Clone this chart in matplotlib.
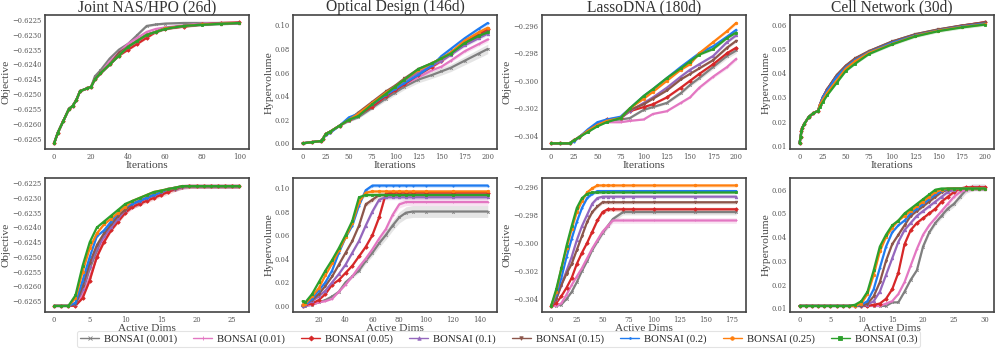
import numpy as np
import matplotlib
matplotlib.use("Agg")
import matplotlib.pyplot as plt
from matplotlib.ticker import MultipleLocator, FuncFormatter

plt.style.use("seaborn-v0_8-white")
plt.rcParams["font.family"] = ["Liberation Serif", "DejaVu Serif"]

labels = ["BONSAI (0.001)", "BONSAI (0.01)", "BONSAI (0.05)", "BONSAI (0.1)",
          "BONSAI (0.15)", "BONSAI (0.2)", "BONSAI (0.25)", "BONSAI (0.3)"]
colors = ["#7f7f7f", "#e377c2", "#d62728", "#9467bd",
          "#8c564b", "#1f7bf0", "#ff7f0e", "#2ca02c"]
markers = ["x", "+", "D", "^", "v", ".", "o", "s"]

# ---- Joint NAS/HPO, iterations
nas_it_x = [0, 2, 5, 8, 10, 12, 14, 18, 20, 22, 25, 30, 35, 40, 45, 50, 55, 60, 70, 80, 90, 100]
nas_it_y = [
    [-0.62666, -0.6263, -0.6259, -0.6255, -0.6254, -0.6252, -0.6249, -0.6248, -0.62475, -0.6244, -0.6242, -0.6238, -0.6235, -0.6233, -0.6230, -0.6227, -0.62265, -0.62262, -0.6226, -0.6226, -0.6226, -0.6226],
    [-0.62666, -0.6263, -0.6259, -0.6255, -0.6254, -0.6252, -0.6249, -0.6248, -0.62475, -0.6245, -0.6243, -0.6239, -0.6236, -0.6233, -0.6231, -0.6229, -0.6228, -0.62275, -0.62268, -0.62262, -0.6226, -0.6226],
    [-0.62666, -0.6263, -0.6259, -0.6255, -0.6254, -0.6252, -0.6249, -0.6248, -0.62475, -0.6245, -0.6243, -0.6240, -0.6237, -0.6235, -0.6233, -0.6231, -0.6229, -0.6228, -0.62272, -0.62265, -0.6226, -0.62258],
    [-0.62666, -0.6263, -0.6259, -0.6255, -0.6254, -0.6252, -0.6249, -0.6248, -0.62475, -0.6245, -0.6243, -0.6240, -0.6237, -0.6234, -0.6232, -0.6230, -0.6229, -0.62278, -0.6227, -0.62265, -0.62262, -0.6226],
    [-0.62666, -0.6263, -0.6259, -0.6255, -0.6254, -0.6252, -0.6249, -0.6248, -0.62475, -0.6245, -0.6243, -0.6240, -0.6236, -0.6234, -0.6232, -0.6230, -0.6229, -0.62278, -0.6227, -0.62265, -0.62262, -0.6226],
    [-0.62666, -0.6263, -0.6259, -0.6255, -0.6254, -0.6252, -0.6249, -0.6248, -0.62475, -0.6245, -0.6243, -0.6240, -0.6237, -0.6234, -0.6232, -0.6230, -0.6229, -0.62278, -0.6227, -0.62265, -0.62262, -0.6226],
    [-0.62666, -0.6263, -0.6259, -0.6255, -0.6254, -0.6252, -0.6249, -0.6248, -0.62475, -0.6245, -0.6243, -0.6240, -0.6237, -0.6234, -0.6232, -0.6230, -0.6229, -0.62278, -0.6227, -0.62265, -0.62262, -0.6226],
    [-0.62666, -0.6263, -0.6259, -0.6255, -0.6254, -0.6252, -0.6249, -0.6248, -0.62475, -0.6245, -0.6243, -0.6240, -0.6237, -0.6234, -0.6232, -0.6230, -0.6229, -0.6228, -0.6227, -0.62266, -0.62263, -0.6226],
]
nas_it_sem = [0.00004, 0.00004, 0.00004, 0.00004, 0.00004, 0.00004, 0.00004, 0.00004]

# ---- Optical Design, iterations
opt_it_x = [0, 10, 20, 22, 25, 30, 40, 50, 60, 75, 90, 100, 110, 125, 140, 150, 160, 175, 190, 200]
opt_it_y = [
    [0, 0.001, 0.002, 0.004, 0.008, 0.010, 0.015, 0.019, 0.022, 0.030, 0.038, 0.043, 0.048, 0.054, 0.058, 0.061, 0.064, 0.070, 0.076, 0.080],
    [0, 0.001, 0.002, 0.004, 0.008, 0.010, 0.015, 0.020, 0.024, 0.032, 0.040, 0.046, 0.050, 0.056, 0.062, 0.065, 0.070, 0.078, 0.084, 0.088],
    [0, 0.001, 0.002, 0.004, 0.008, 0.010, 0.015, 0.020, 0.024, 0.031, 0.040, 0.045, 0.050, 0.058, 0.065, 0.070, 0.076, 0.086, 0.092, 0.097],
    [0, 0.001, 0.002, 0.004, 0.008, 0.010, 0.015, 0.020, 0.025, 0.033, 0.042, 0.047, 0.053, 0.060, 0.066, 0.070, 0.075, 0.083, 0.089, 0.093],
    [0, 0.001, 0.002, 0.004, 0.008, 0.010, 0.015, 0.020, 0.026, 0.035, 0.044, 0.049, 0.055, 0.063, 0.068, 0.072, 0.077, 0.085, 0.091, 0.095],
    [0, 0.001, 0.002, 0.004, 0.007, 0.009, 0.015, 0.022, 0.025, 0.033, 0.041, 0.046, 0.051, 0.058, 0.066, 0.074, 0.080, 0.089, 0.097, 0.102],
    [0, 0.001, 0.002, 0.004, 0.008, 0.010, 0.015, 0.020, 0.025, 0.034, 0.043, 0.048, 0.054, 0.062, 0.068, 0.072, 0.077, 0.087, 0.094, 0.098],
    [0, 0.001, 0.002, 0.004, 0.008, 0.010, 0.015, 0.020, 0.023, 0.033, 0.042, 0.048, 0.054, 0.063, 0.068, 0.072, 0.076, 0.085, 0.091, 0.094],
]
opt_it_sem = [0.004, 0.002, 0.002, 0.0015, 0.0015, 0.0015, 0.0015, 0.0015]

# ---- LassoDNA, iterations
las_it_x = [0, 10, 20, 25, 30, 40, 50, 60, 75, 85, 100, 110, 125, 140, 150, 160, 175, 190, 200]
las_it_y = [
    [-0.30453, -0.30453, -0.30453, -0.3043, -0.3041, -0.3036, -0.3032, -0.3029, -0.3028, -0.3027, -0.3021, -0.3019, -0.3016, -0.3009, -0.3003, -0.2998, -0.2990, -0.2982, -0.2978],
    [-0.30453, -0.30453, -0.30453, -0.3043, -0.3041, -0.3036, -0.3032, -0.3030, -0.3030, -0.3029, -0.3028, -0.3024, -0.3022, -0.3016, -0.3012, -0.3005, -0.2997, -0.2990, -0.2984],
    [-0.30453, -0.30453, -0.30453, -0.3043, -0.3041, -0.3036, -0.3032, -0.3028, -0.3027, -0.3022, -0.3019, -0.3017, -0.3012, -0.3005, -0.3000, -0.2995, -0.2988, -0.2980, -0.2976],
    [-0.30453, -0.30453, -0.30453, -0.3043, -0.3041, -0.3036, -0.3032, -0.3029, -0.3027, -0.3022, -0.3016, -0.3012, -0.3005, -0.2997, -0.2992, -0.2988, -0.2982, -0.2972, -0.2967],
    [-0.30453, -0.30453, -0.30453, -0.3043, -0.3041, -0.3036, -0.3032, -0.3029, -0.3027, -0.3021, -0.3017, -0.3013, -0.3007, -0.2999, -0.2995, -0.2991, -0.2985, -0.2976, -0.2971],
    [-0.30453, -0.30453, -0.30453, -0.3044, -0.3041, -0.3035, -0.3030, -0.3028, -0.3026, -0.3020, -0.3011, -0.3006, -0.2998, -0.2990, -0.2985, -0.2980, -0.2975, -0.2968, -0.2963],
    [-0.30453, -0.30453, -0.30453, -0.3043, -0.3041, -0.3036, -0.3032, -0.3029, -0.3027, -0.3020, -0.3013, -0.3008, -0.3000, -0.2992, -0.2988, -0.2980, -0.2972, -0.2964, -0.2958],
    [-0.30453, -0.30453, -0.30453, -0.3043, -0.3041, -0.3037, -0.3033, -0.3030, -0.3027, -0.3020, -0.3011, -0.3006, -0.2998, -0.2991, -0.2986, -0.2981, -0.2977, -0.2969, -0.2965],
]
las_it_sem = [0.0002, 0.00015, 0.00015, 0.0001, 0.0001, 0.00012, 0.00012, 0.0001]

# ---- Cell Network, iterations
cel_it_x = [0, 1, 2, 3, 5, 10, 15, 20, 22, 25, 30, 40, 50, 60, 75, 100, 125, 150, 175, 200]
cel_it_y = [
    [0.011, 0.0135, 0.016, 0.0175, 0.019, 0.022, 0.0235, 0.0245, 0.027, 0.030, 0.0335, 0.0392, 0.0432, 0.0462, 0.0492, 0.0532, 0.0562, 0.0582, 0.0598, 0.0610],
    [0.011, 0.0135, 0.016, 0.0175, 0.019, 0.022, 0.0235, 0.0245, 0.027, 0.030, 0.0335, 0.0390, 0.0430, 0.0460, 0.0490, 0.0530, 0.0560, 0.0580, 0.0597, 0.0612],
    [0.011, 0.0135, 0.016, 0.0175, 0.019, 0.022, 0.0235, 0.0245, 0.027, 0.030, 0.0335, 0.0390, 0.0430, 0.0460, 0.0490, 0.0530, 0.0560, 0.0580, 0.0597, 0.0612],
    [0.011, 0.0135, 0.016, 0.0175, 0.019, 0.022, 0.0235, 0.0245, 0.027, 0.030, 0.0333, 0.0388, 0.0428, 0.0458, 0.0488, 0.0528, 0.0558, 0.0578, 0.0595, 0.0608],
    [0.011, 0.0135, 0.016, 0.0175, 0.019, 0.022, 0.0235, 0.0245, 0.027, 0.030, 0.0335, 0.0392, 0.0432, 0.0462, 0.0492, 0.0532, 0.0562, 0.0582, 0.0598, 0.0611],
    [0.011, 0.0135, 0.016, 0.0175, 0.019, 0.022, 0.0235, 0.0245, 0.027, 0.030, 0.0330, 0.0385, 0.0425, 0.0455, 0.0487, 0.0527, 0.0557, 0.0578, 0.0594, 0.0606],
    [0.011, 0.0135, 0.016, 0.0175, 0.019, 0.022, 0.0235, 0.0245, 0.027, 0.029, 0.0320, 0.0370, 0.0420, 0.0450, 0.0485, 0.0522, 0.0555, 0.0577, 0.0592, 0.0603],
    [0.011, 0.0135, 0.016, 0.0175, 0.019, 0.022, 0.0235, 0.0245, 0.026, 0.028, 0.0310, 0.0360, 0.0410, 0.0440, 0.0480, 0.0520, 0.0553, 0.0575, 0.0590, 0.0602],
]
cel_it_sem = [0.0004, 0.0004, 0.0004, 0.0004, 0.0004, 0.0004, 0.0004, 0.0006]

# ---- Joint NAS/HPO, active dims
nas_ad_x = list(range(27))
nas_ad_y = [
    [-0.62666, -0.62666, -0.62666, -0.6266, -0.6262, -0.6254, -0.6248, -0.6243, -0.6240, -0.6237, -0.6234, -0.6233, -0.6232, -0.6230, -0.6229, -0.6228, -0.6227, -0.6227, -0.62262, -0.6226, -0.6226, -0.6226, -0.6226, -0.6226, -0.6226, -0.6226, -0.6226],
    [-0.62666, -0.62666, -0.62666, -0.62665, -0.6263, -0.6257, -0.6250, -0.6244, -0.6240, -0.6237, -0.6235, -0.6233, -0.6232, -0.6230, -0.6229, -0.6228, -0.6227, -0.6227, -0.62262, -0.6226, -0.6226, -0.6226, -0.6226, -0.6226, -0.6226, -0.6226, -0.6226],
    [-0.62666, -0.62666, -0.62666, -0.62665, -0.6264, -0.6258, -0.6250, -0.6245, -0.6241, -0.6238, -0.6235, -0.6233, -0.6232, -0.6231, -0.6230, -0.6229, -0.6228, -0.6227, -0.62262, -0.6226, -0.6226, -0.6226, -0.6226, -0.6226, -0.6226, -0.6226, -0.6226],
    [-0.62666, -0.62666, -0.62666, -0.6266, -0.6261, -0.6253, -0.6247, -0.6243, -0.6240, -0.6237, -0.6234, -0.6232, -0.6231, -0.6230, -0.6229, -0.6228, -0.6227, -0.6227, -0.62262, -0.6226, -0.6226, -0.6226, -0.6226, -0.6226, -0.6226, -0.6226, -0.6226],
    [-0.62666, -0.62666, -0.62666, -0.6266, -0.6260, -0.6252, -0.6246, -0.6242, -0.6239, -0.6236, -0.6234, -0.6232, -0.6231, -0.6230, -0.6229, -0.6228, -0.6227, -0.6227, -0.62262, -0.6226, -0.6226, -0.6226, -0.6226, -0.6226, -0.6226, -0.6226, -0.6226],
    [-0.62666, -0.62666, -0.62666, -0.62655, -0.6258, -0.6250, -0.6243, -0.6241, -0.6238, -0.6235, -0.6233, -0.6232, -0.6231, -0.6230, -0.6229, -0.6228, -0.6227, -0.62265, -0.6226, -0.6226, -0.6226, -0.6226, -0.6226, -0.6226, -0.6226, -0.6226, -0.6226],
    [-0.62666, -0.62666, -0.62666, -0.6264, -0.6255, -0.6247, -0.6242, -0.6239, -0.6237, -0.6235, -0.6233, -0.6231, -0.6230, -0.6229, -0.6228, -0.62275, -0.6227, -0.62265, -0.6226, -0.6226, -0.6226, -0.6226, -0.6226, -0.6226, -0.6226, -0.6226, -0.6226],
    [-0.62666, -0.62666, -0.62666, -0.6263, -0.6253, -0.6245, -0.6240, -0.6238, -0.6236, -0.6234, -0.6232, -0.6231, -0.6230, -0.6229, -0.6228, -0.62275, -0.6227, -0.62265, -0.6226, -0.6226, -0.6226, -0.6226, -0.6226, -0.6226, -0.6226, -0.6226, -0.6226],
]
nas_ad_sem = [0.00008, 0.00008, 0.00008, 0.00006, 0.00006, 0.00005, 0.00005, 0.00005]

# ---- Optical Design, active dims
opt_ad_x = [8, 10, 15, 20, 25, 30, 35, 40, 45, 50, 55, 60, 65, 70, 75, 80, 85, 90, 100, 120, 146]
opt_ad_y = [
    [0.000, 0.000, 0.001, 0.003, 0.005, 0.008, 0.012, 0.020, 0.025, 0.030, 0.038, 0.045, 0.053, 0.060, 0.068, 0.075, 0.079, 0.080, 0.080, 0.080, 0.080],
    [0.000, 0.000, 0.001, 0.003, 0.004, 0.006, 0.012, 0.018, 0.025, 0.033, 0.040, 0.048, 0.057, 0.065, 0.077, 0.086, 0.088, 0.088, 0.088, 0.088, 0.088],
    [0.000, 0.001, 0.002, 0.005, 0.010, 0.018, 0.022, 0.028, 0.034, 0.042, 0.050, 0.060, 0.075, 0.095, 0.096, 0.096, 0.096, 0.096, 0.096, 0.096, 0.096],
    [0.000, 0.001, 0.004, 0.008, 0.013, 0.020, 0.027, 0.035, 0.045, 0.055, 0.068, 0.080, 0.090, 0.092, 0.092, 0.092, 0.092, 0.092, 0.092, 0.092, 0.092],
    [0.001, 0.002, 0.005, 0.010, 0.017, 0.025, 0.035, 0.045, 0.055, 0.068, 0.086, 0.090, 0.094, 0.094, 0.094, 0.094, 0.094, 0.094, 0.094, 0.094, 0.094],
    [0.000, 0.001, 0.006, 0.013, 0.020, 0.030, 0.045, 0.058, 0.068, 0.085, 0.098, 0.102, 0.102, 0.102, 0.102, 0.102, 0.102, 0.102, 0.102, 0.102, 0.102],
    [0.001, 0.002, 0.008, 0.015, 0.026, 0.036, 0.047, 0.058, 0.070, 0.088, 0.096, 0.097, 0.097, 0.097, 0.097, 0.097, 0.097, 0.097, 0.097, 0.097, 0.097],
    [0.004, 0.003, 0.010, 0.020, 0.030, 0.039, 0.049, 0.060, 0.072, 0.092, 0.094, 0.094, 0.094, 0.094, 0.094, 0.094, 0.094, 0.094, 0.094, 0.094, 0.094],
]
opt_ad_sem = [0.005, 0.003, 0.002, 0.002, 0.002, 0.0015, 0.0015, 0.0015]

# ---- LassoDNA, active dims
las_ad_x = [0, 5, 10, 15, 20, 25, 30, 35, 40, 45, 50, 55, 60, 70, 80, 100, 140, 180]
las_ad_y = [
    [-0.3045, -0.3045, -0.3044, -0.3040, -0.3035, -0.3028, -0.3020, -0.3013, -0.3005, -0.2999, -0.2993, -0.2988, -0.2983, -0.2978, -0.2978, -0.2978, -0.2978, -0.2978],
    [-0.3045, -0.3045, -0.3043, -0.3037, -0.3030, -0.3024, -0.3018, -0.3011, -0.3004, -0.2998, -0.2992, -0.2988, -0.2984, -0.2984, -0.2984, -0.2984, -0.2984, -0.2984],
    [-0.3045, -0.3043, -0.3038, -0.3032, -0.3025, -0.3015, -0.3007, -0.3000, -0.2992, -0.2984, -0.2978, -0.2976, -0.2976, -0.2976, -0.2976, -0.2976, -0.2976, -0.2976],
    [-0.3045, -0.3040, -0.3030, -0.3020, -0.3010, -0.2998, -0.2988, -0.2980, -0.2972, -0.2968, -0.2967, -0.2967, -0.2967, -0.2967, -0.2967, -0.2967, -0.2967, -0.2967],
    [-0.3045, -0.3040, -0.3030, -0.3022, -0.3015, -0.3005, -0.2995, -0.2985, -0.2978, -0.2974, -0.2971, -0.2971, -0.2971, -0.2971, -0.2971, -0.2971, -0.2971, -0.2971],
    [-0.3045, -0.3037, -0.3025, -0.3010, -0.2997, -0.2985, -0.2975, -0.2968, -0.2965, -0.2963, -0.2963, -0.2963, -0.2963, -0.2963, -0.2963, -0.2963, -0.2963, -0.2963],
    [-0.3045, -0.3035, -0.3018, -0.3004, -0.2990, -0.2978, -0.2970, -0.2964, -0.2961, -0.2959, -0.2959, -0.2959, -0.2959, -0.2959, -0.2959, -0.2959, -0.2959, -0.2959],
    [-0.3045, -0.3033, -0.3018, -0.3002, -0.2988, -0.2975, -0.2968, -0.2965, -0.2964, -0.2964, -0.2964, -0.2964, -0.2964, -0.2964, -0.2964, -0.2964, -0.2964, -0.2964],
]
las_ad_sem = [0.0002, 0.0002, 0.00015, 0.00012, 0.00012, 0.0001, 0.00012, 0.0001]

# ---- Cell Network, active dims
cel_ad_x = list(range(31))
cel_ad_y = [
    [0.011, 0.011, 0.011, 0.011, 0.011, 0.011, 0.011, 0.011, 0.011, 0.011, 0.011, 0.011, 0.011, 0.011, 0.011, 0.0125, 0.0125, 0.017, 0.022, 0.026, 0.036, 0.042, 0.046, 0.049, 0.052, 0.054, 0.057, 0.060, 0.061, 0.061, 0.061],
    [0.011, 0.011, 0.011, 0.011, 0.011, 0.011, 0.011, 0.011, 0.011, 0.011, 0.011, 0.011, 0.011, 0.011, 0.012, 0.013, 0.016, 0.021, 0.028, 0.035, 0.041, 0.045, 0.048, 0.051, 0.054, 0.057, 0.059, 0.060, 0.061, 0.061, 0.061],
    [0.011, 0.011, 0.011, 0.011, 0.011, 0.011, 0.011, 0.011, 0.011, 0.011, 0.011, 0.011, 0.0115, 0.012, 0.014, 0.018, 0.025, 0.037, 0.043, 0.046, 0.048, 0.050, 0.052, 0.055, 0.057, 0.059, 0.0605, 0.061, 0.061, 0.061, 0.061],
    [0.011, 0.011, 0.011, 0.011, 0.011, 0.011, 0.011, 0.011, 0.011, 0.011, 0.011, 0.0115, 0.013, 0.017, 0.024, 0.031, 0.038, 0.043, 0.046, 0.049, 0.051, 0.053, 0.055, 0.057, 0.059, 0.060, 0.0605, 0.0605, 0.0605, 0.0605, 0.0605],
    [0.011, 0.011, 0.011, 0.011, 0.011, 0.011, 0.011, 0.011, 0.011, 0.011, 0.011, 0.012, 0.015, 0.021, 0.030, 0.037, 0.041, 0.045, 0.049, 0.051, 0.053, 0.055, 0.057, 0.059, 0.060, 0.0605, 0.0605, 0.0605, 0.0605, 0.0605, 0.0605],
    [0.011, 0.011, 0.011, 0.011, 0.011, 0.011, 0.011, 0.011, 0.011, 0.011, 0.0115, 0.013, 0.018, 0.027, 0.036, 0.042, 0.045, 0.047, 0.050, 0.052, 0.054, 0.056, 0.058, 0.0595, 0.0605, 0.0605, 0.0605, 0.0605, 0.0605, 0.0605, 0.0605],
    [0.011, 0.011, 0.011, 0.011, 0.011, 0.011, 0.011, 0.011, 0.011, 0.011, 0.012, 0.016, 0.024, 0.034, 0.040, 0.044, 0.047, 0.049, 0.051, 0.053, 0.055, 0.057, 0.059, 0.060, 0.0605, 0.0605, 0.0605, 0.0605, 0.0605, 0.0605, 0.0605],
    [0.011, 0.011, 0.011, 0.011, 0.011, 0.011, 0.011, 0.011, 0.011, 0.0115, 0.013, 0.017, 0.026, 0.036, 0.041, 0.045, 0.047, 0.050, 0.052, 0.054, 0.056, 0.058, 0.060, 0.0605, 0.0605, 0.0605, 0.0605, 0.0605, 0.0605, 0.0605, 0.0605],
]
cel_ad_sem = [0.0015, 0.0012, 0.0008, 0.0008, 0.0008, 0.0006, 0.0006, 0.0006]

# title, xlabel, ylabel, x, ys, sem, xstep, ystep, decimals
panels = [
    ("Joint NAS/HPO (26d)", "Iterations", "Objective", nas_it_x, nas_it_y, nas_it_sem, 20, 0.0005, 4),
    ("Optical Design (146d)", "Iterations", "Hypervolume", opt_it_x, opt_it_y, opt_it_sem, 25, 0.02, 2),
    ("LassoDNA (180d)", "Iterations", "Objective", las_it_x, las_it_y, las_it_sem, 25, 0.002, 3),
    ("Cell Network (30d)", "Iterations", "Hypervolume", cel_it_x, cel_it_y, cel_it_sem, 25, 0.01, 2),
    (None, "Active Dims", "Objective", nas_ad_x, nas_ad_y, nas_ad_sem, 5, 0.0005, 4),
    (None, "Active Dims", "Hypervolume", opt_ad_x, opt_ad_y, opt_ad_sem, 20, 0.02, 2),
    (None, "Active Dims", "Objective", las_ad_x, las_ad_y, las_ad_sem, 25, 0.002, 3),
    (None, "Active Dims", "Hypervolume", cel_ad_x, cel_ad_y, cel_ad_sem, 5, 0.01, 2),
]


def minus_fmt(nd):
    return FuncFormatter(lambda v, pos: f"{v:.{nd}f}".replace("-", "\u2212"))


fig, axes = plt.subplots(2, 4, figsize=(9.97, 3.51), dpi=100)
fig.subplots_adjust(left=0.045, right=0.997, top=0.957, bottom=0.111, wspace=0.22, hspace=0.21)

for ax, (title, xlab, ylab, xs, ys, sems, xstep, ystep, nd) in zip(axes.flat, panels):
    xs = np.array(xs)
    for i, y in enumerate(ys):
        y = np.array(y)
        span = y.max() - y.min()
        err = sems[i] * (y - y.min()) / span if span > 0 else np.zeros_like(y)
        ax.fill_between(xs, y - err, y + err, color=colors[i], alpha=0.2, lw=0)
        ax.plot(xs, y, color=colors[i], lw=1.6, marker=markers[i], ms=1.8,
                mew=0.6, label=labels[i])
    if title:
        ax.set_title(title, fontsize=11.2, color="#333333", pad=1.5)
    ax.set_xlabel(xlab, fontsize=8.2, color="#444444", labelpad=0)
    ax.set_ylabel(ylab, fontsize=8.2, color="#444444", labelpad=1)
    ax.xaxis.set_major_locator(MultipleLocator(xstep))
    ax.yaxis.set_major_locator(MultipleLocator(ystep))
    ax.yaxis.set_major_formatter(minus_fmt(nd))
    ax.tick_params(length=0, pad=2.5)
    for lab in ax.get_xticklabels() + ax.get_yticklabels():
        lab.set_fontfamily("DejaVu Serif")
        lab.set_fontsize(4.9)
        lab.set_color("#555555")
    for s in ax.spines.values():
        s.set_color("#444444")
        s.set_linewidth(1.2)

handles, labs = axes[0, 0].get_legend_handles_labels()
leg = fig.legend(handles, labs, loc="lower center", bbox_to_anchor=(0.5, -0.005),
                 ncol=8, fontsize=7.7, frameon=True, handlelength=1.8,
                 columnspacing=1.5, borderpad=0.3, handletextpad=0.45)
leg.get_frame().set_edgecolor("#dddddd")
leg.get_frame().set_linewidth(0.8)
for h in leg.legend_handles:
    h.set_linewidth(1)
    h.set_markersize(2.5)

fig.savefig("out.png", dpi=100)
